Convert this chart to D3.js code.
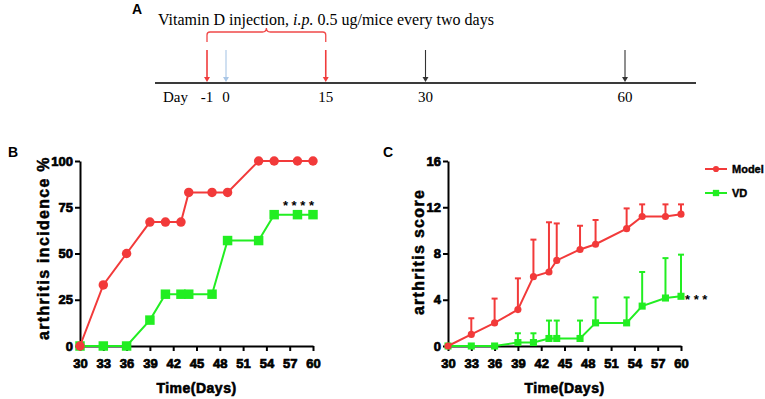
<!DOCTYPE html>
<html>
<head>
<meta charset="utf-8">
<script src="https://cdn.jsdelivr.net/npm/d3@7"></script>
<style>
  body { margin: 0; background: #fff; }
  .tick text { font-family: "Liberation Sans", Arial, sans-serif; font-weight: bold; font-size: 13px; fill: #000; stroke: #000; stroke-width: 0.7px; }
  .domain, .tick line { stroke: #000; stroke-width: 2px; }
</style>
</head>
<body>
<svg id="chart" width="765" height="399"></svg>
<script>
// days of measurement
const days = [30, 33, 36, 39, 41, 43, 44, 47, 49, 53, 55, 58, 60];
// panel B: arthritis incidence %
const incidenceModel = [0, 33, 50, 67, 67, 67, 83, 83, 83, 100, 100, 100, 100];
const incidenceVD = [0, 0, 0, 14, 28, 28, 28, 28, 57, 57, 71, 71, 71];
// panel C: arthritis score, mean and SD (upper bar only)
const scoreModel = [0, 1.0, 2.0, 3.15, 6.0, 6.4, 7.4, 8.35, 8.8, 10.15, 11.2, 11.2, 11.4];
const sdModel = [0, 1.4, 2.1, 2.7, 3.2, 4.3, 3.2, 2.05, 2.1, 1.75, 1.05, 1.05, 0.85];
const scoreVD = [0, 0, 0, 0.3, 0.3, 0.65, 0.65, 0.65, 2.0, 2.0, 3.45, 4.15, 4.3];
const sdVD = [0, 0, 0, 0.8, 0.8, 1.55, 1.55, 1.55, 2.2, 2.2, 2.95, 3.45, 3.6];
const xTicks = [30, 33, 36, 39, 42, 45, 48, 51, 54, 57, 60];
const incidenceTicks = [0, 25, 50, 75, 100];
const scoreTicks = [0, 4, 8, 12, 16];
const groups = ["Model", "VD"];
// panel A: timeline
const timelineDays = [-1, 0, 15, 30, 60];
const injectionDays = [-1, 15];

const red = "#f23a3a";
const green = "#22ee22";

const svg = d3.select("#chart");

// ---------- Panel A ----------
const tl = d3.scaleLinear().domain([-1, 0, 60]).range([207, 226, 625]);
const gA = svg.append("g");
gA.append("text").attr("x", 132).attr("y", 14)
  .style("font-family", "Liberation Sans, Arial").style("font-weight", "bold").style("font-size", "14px")
  .text("A");

const title = gA.append("text").attr("x", 158).attr("y", 25)
  .style("font-family", "Liberation Serif, serif").style("font-size", "16px");
title.append("tspan").text("Vitamin D injection, ");
title.append("tspan").style("font-style", "italic").text("i.p.");
title.append("tspan").text(" 0.5 ug/mice every two days");

// bracket over the injection period
const b0 = tl(injectionDays[0]), b1 = tl(injectionDays[1]), bm = (b0 + b1) / 2;
gA.append("path")
  .attr("d", `M${b0},42 V35 Q${b0},32 ${b0 + 3},32 H${bm - 4} Q${bm},32 ${bm},28 Q${bm},32 ${bm + 4},32 H${b1 - 3} Q${b1},32 ${b1},35 V42`)
  .attr("fill", "none").attr("stroke", "#f04848").attr("stroke-width", 1.3);

gA.append("line").attr("x1", 155).attr("x2", 696).attr("y1", 83).attr("y2", 83)
  .attr("stroke", "#3a3a3a").attr("stroke-width", 2);

const arrowColor = d => injectionDays.includes(d) ? "#f03c3c" : (d === 0 ? "#a9c6e6" : "#333");
timelineDays.forEach(d => {
  const x = tl(d);
  gA.append("line").attr("x1", x).attr("x2", x).attr("y1", 50).attr("y2", 78)
    .attr("stroke", arrowColor(d)).attr("stroke-width", injectionDays.includes(d) ? 1.6 : 1.1);
  gA.append("path").attr("d", `M${x - 3},77 L${x + 3},77 L${x},82 Z`).attr("fill", arrowColor(d));
  gA.append("text").attr("x", x).attr("y", 102).attr("text-anchor", "middle")
    .style("font-family", "Liberation Serif, serif").style("font-size", "15px")
    .text(d);
});
gA.append("text").attr("x", 163).attr("y", 102)
  .style("font-family", "Liberation Serif, serif").style("font-size", "15px").text("Day");

// ---------- helpers ----------
function panel(left, right, yDomain, yTicks) {
  const x = d3.scaleLinear().domain([30, 60]).range([left, right]);
  const y = d3.scaleLinear().domain(yDomain).range([346, 161]);
  const g = svg.append("g");
  g.append("g").attr("transform", "translate(0,346)")
    .call(d3.axisBottom(x).tickValues(xTicks).tickSize(5).tickPadding(8).tickSizeOuter(0));
  g.append("g").attr("transform", `translate(${left},0)`)
    .call(d3.axisLeft(y).tickValues(yTicks).tickSize(5).tickPadding(2).tickSizeOuter(0));
  g.append("text").attr("x", (left + right) / 2).attr("y", 393).attr("text-anchor", "middle")
    .style("font-family", "Liberation Sans, Arial").style("font-weight", "bold").style("font-size", "14px")
    .style("letter-spacing", "0.5px").attr("stroke", "#000").attr("stroke-width", 0.6)
    .text("Time(Days)");
  return { x, y, g };
}

function yTitle(g, cx, cy, text) {
  g.append("text").attr("transform", `translate(${cx},${cy}) rotate(-90)`).attr("text-anchor", "middle")
    .style("font-family", "Liberation Sans, Arial").style("font-weight", "bold").style("font-size", "16px")
    .style("letter-spacing", "1.3px").attr("stroke", "#000").attr("stroke-width", 0.5)
    .text(text);
}

function series(p, vals, color, shape, size, sd) {
  const pts = days.map((d, i) => ({ d, v: vals[i], s: sd ? sd[i] : 0 }));
  if (sd) {
    const eb = p.g.append("g").attr("stroke", color).attr("stroke-width", 2);
    pts.filter(q => q.s > 0).forEach(q => {
      eb.append("line").attr("x1", p.x(q.d)).attr("x2", p.x(q.d)).attr("y1", p.y(q.v)).attr("y2", p.y(q.v + q.s));
      eb.append("line").attr("x1", p.x(q.d) - 3).attr("x2", p.x(q.d) + 3).attr("y1", p.y(q.v + q.s)).attr("y2", p.y(q.v + q.s));
    });
  }
  p.g.append("path").datum(pts)
    .attr("d", d3.line().x(q => p.x(q.d)).y(q => p.y(q.v)))
    .attr("fill", "none").attr("stroke", color).attr("stroke-width", 2);
  const sym = d3.symbol().type(shape).size(size);
  p.g.selectAll(null).data(pts).enter().append("path")
    .attr("transform", q => `translate(${p.x(q.d)},${p.y(q.v)})`)
    .attr("d", sym).attr("fill", color);
}

// ---------- Panel B ----------
const pB = panel(80, 313, [0, 100], incidenceTicks);
svg.append("text").attr("x", 8).attr("y", 157)
  .style("font-family", "Liberation Sans, Arial").style("font-weight", "bold").style("font-size", "14px").text("B");
yTitle(pB.g, 49, 248, "arthritis incidence %");
series(pB, incidenceVD, green, d3.symbolSquare, 90);
series(pB, incidenceModel, red, d3.symbolCircle, 70);
pB.g.append("text").attr("x", pB.x(60) + 1).attr("y", pB.y(71) - 5).attr("text-anchor", "end")
  .style("font-family", "Liberation Sans, Arial").style("font-weight", "bold").style("font-size", "13px")
  .text("* * * *");

// ---------- Panel C ----------
const pC = panel(448, 681, [0, 16], scoreTicks);
svg.append("text").attr("x", 383).attr("y", 157)
  .style("font-family", "Liberation Sans, Arial").style("font-weight", "bold").style("font-size", "14px").text("C");
yTitle(pC.g, 424, 252, "arthritis score");
series(pC, scoreVD, green, d3.symbolSquare, 50, sdVD);
series(pC, scoreModel, red, d3.symbolCircle, 40, sdModel);
pC.g.append("text").attr("x", pC.x(60) + 4).attr("y", pC.y(4.3) + 8)
  .style("font-family", "Liberation Sans, Arial").style("font-weight", "bold").style("font-size", "13px")
  .text("* * *");

// legend
const legend = svg.append("g");
groups.forEach((name, i) => {
  const ly = 169 + i * 24;
  const color = i === 0 ? red : green;
  legend.append("line").attr("x1", 705).attr("x2", 727).attr("y1", ly).attr("y2", ly)
    .attr("stroke", color).attr("stroke-width", 2);
  legend.append("path").attr("transform", `translate(716,${ly})`)
    .attr("d", d3.symbol().type(i === 0 ? d3.symbolCircle : d3.symbolSquare).size(i === 0 ? 30 : 40))
    .attr("fill", color);
  legend.append("text").attr("x", 732).attr("y", ly + 4)
    .style("font-family", "Liberation Sans, Arial").style("font-weight", "bold").style("font-size", "11px")
    .attr("stroke", "#000").attr("stroke-width", 0.4)
    .text(name);
});
</script>
</body>
</html>
